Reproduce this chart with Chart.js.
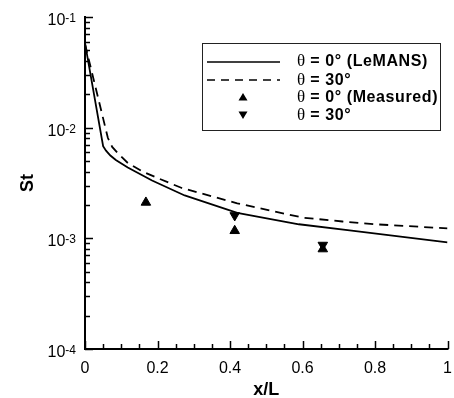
<!DOCTYPE html>
<html>
<head>
<meta charset="utf-8">
<script src="https://cdn.jsdelivr.net/npm/chart.js@4.4.1/dist/chart.umd.min.js"></script>
<style>
  html, body { margin: 0; padding: 0; background: #fff; }
  #wrap { width: 454px; height: 398px; }
</style>
</head>
<body>
<div id="wrap"><canvas id="chart" width="454" height="398"></canvas></div>
<script>
// LeMANS, theta = 0 deg (solid)
const xSolid = [0, 0.05, 0.058, 0.07, 0.085, 0.118, 0.185, 0.275, 0.42, 0.59, 0.73, 1.0];
const stSolid = [0.058, 0.0068, 0.0062, 0.0056, 0.0051, 0.00437, 0.00333, 0.00244, 0.0017, 0.00134, 0.00118, 0.00092];

// LeMANS, theta = 30 deg (dashed)
const xDash = [0, 0.063, 0.075, 0.09, 0.118, 0.16, 0.21, 0.267, 0.42, 0.6, 0.71, 0.8, 1.0];
const stDash = [0.057, 0.0081, 0.0067, 0.0059, 0.0048, 0.0040, 0.0034, 0.00285, 0.00207, 0.00154, 0.00142, 0.00134, 0.00123];

// measured
const xMeas0 = [0.168, 0.413, 0.656];
const stMeas0 = [0.00211, 0.00117, 0.00080];
const xMeas30 = [0.413, 0.656];
const stMeas30 = [0.00161, 0.00087];

const xTicks = [0, 0.2, 0.4, 0.6, 0.8, 1];
const xTickLabels = ['0', '0.2', '0.4', '0.6', '0.8', '1'];
const yExps = [-1, -2, -3, -4];

const legendLabels = [' = 0\u00b0 (LeMANS)', ' = 30\u00b0', ' = 0\u00b0 (Measured)', ' = 30\u00b0'];

function pts(xs, ys) {
    return xs.map((x, i) => ({x: x, y: ys[i]}));
}

const sans = '"Liberation Sans", Arial, sans-serif';
const serif = '"Liberation Serif", "Times New Roman", serif';

const decor = {
    id: 'decor',
    afterDraw(chart) {
        const ctx = chart.ctx;
        const xs = chart.scales.x, ys = chart.scales.y;
        const L = xs.getPixelForValue(0), R = xs.getPixelForValue(1);
        const T = ys.getPixelForValue(0.1), B = ys.getPixelForValue(0.0001);
        ctx.save();
        ctx.strokeStyle = '#000';
        ctx.fillStyle = '#000';

        // spines
        ctx.lineWidth = 2;
        ctx.beginPath();
        ctx.moveTo(L, T - 1);
        ctx.lineTo(L, B);
        ctx.lineTo(R + 1, B);
        ctx.stroke();

        // y ticks (log, inward)
        ctx.lineWidth = 1.5;
        for (let k = -4; k <= -1; k++) {
            for (let m = 1; m <= 9; m++) {
                const v = m * Math.pow(10, k);
                if (v > 0.1 + 1e-12) break;
                const py = Math.round(ys.getPixelForValue(v)) + 0.5;
                const len = m === 1 ? 8 : 5;
                ctx.beginPath();
                ctx.moveTo(L, py);
                ctx.lineTo(L + len, py);
                ctx.stroke();
            }
        }
        // x ticks (inward)
        for (let i = 0; i <= 20; i++) {
            const v = i * 0.05;
            const px = Math.round(xs.getPixelForValue(v)) + 0.5;
            const len = i % 4 === 0 ? 8 : 5;
            ctx.beginPath();
            ctx.moveTo(px, B);
            ctx.lineTo(px, B - len);
            ctx.stroke();
        }

        // x tick labels
        ctx.font = '16px ' + sans;
        ctx.textAlign = 'center';
        ctx.textBaseline = 'alphabetic';
        xTicks.forEach((v, i) => {
            ctx.fillText(xTickLabels[i], xs.getPixelForValue(v), B + 24);
        });

        // y tick labels 10^k
        yExps.forEach(k => {
            const py = ys.getPixelForValue(Math.pow(10, k));
            ctx.font = '12px ' + sans;
            ctx.textAlign = 'right';
            const ex = String(k);
            ctx.fillText(ex, 76, py + 5);
            const ew = ctx.measureText(ex).width;
            ctx.font = '16px ' + sans;
            ctx.fillText('10', 76 - ew, py + 8);
        });

        // axis titles
        ctx.font = 'bold 18px ' + sans;
        ctx.textAlign = 'center';
        ctx.fillText('x/L', (L + R) / 2, B + 46);
        ctx.save();
        ctx.translate(33, (T + B) / 2);
        ctx.rotate(-Math.PI / 2);
        ctx.fillText('St', 0, 0);
        ctx.restore();

        // legend
        const bx = 202.5, by = 43.5, bw = 238, bh = 87;
        ctx.lineWidth = 1;
        ctx.strokeStyle = '#222';
        ctx.strokeRect(bx, by, bw, bh);
        ctx.strokeStyle = '#000';
        const rows = [61, 80, 97, 115];
        const s0 = 207, s1 = 280, sc = 243;
        ctx.lineWidth = 1.6;
        ctx.beginPath();
        ctx.moveTo(s0, rows[0] + 1);
        ctx.lineTo(s1, rows[0] + 1);
        ctx.stroke();
        ctx.setLineDash([8, 6]);
        ctx.beginPath();
        ctx.moveTo(s0, rows[1]);
        ctx.lineTo(s1, rows[1]);
        ctx.stroke();
        ctx.setLineDash([]);
        // triangles
        ctx.beginPath();
        ctx.moveTo(sc - 4.5, rows[2] + 3.5);
        ctx.lineTo(sc + 4.5, rows[2] + 3.5);
        ctx.lineTo(sc, rows[2] - 4);
        ctx.closePath();
        ctx.fill();
        ctx.beginPath();
        ctx.moveTo(sc - 4.5, rows[3] - 3.5);
        ctx.lineTo(sc + 4.5, rows[3] - 3.5);
        ctx.lineTo(sc, rows[3] + 4);
        ctx.closePath();
        ctx.fill();

        ctx.textAlign = 'left';
        ctx.textBaseline = 'middle';
        legendLabels.forEach((t, i) => {
            ctx.letterSpacing = '0px';
            ctx.font = '17px ' + serif;
            ctx.fillText('\u03b8', 297, rows[i] + 1);
            const tw = ctx.measureText('\u03b8').width;
            ctx.font = 'bold 16px ' + sans;
            ctx.letterSpacing = '0.6px';
            ctx.fillText(t, 297 + tw, rows[i] + 1);
        });
        ctx.letterSpacing = '0px';
        ctx.restore();
    }
};

new Chart(document.getElementById('chart').getContext('2d'), {
    type: 'scatter',
    data: {
        datasets: [
            {
                label: 'theta = 0 (LeMANS)',
                data: pts(xSolid, stSolid),
                showLine: true,
                borderColor: '#000',
                borderWidth: 1.8,
                pointRadius: 0,
                tension: 0
            },
            {
                label: 'theta = 30',
                data: pts(xDash, stDash),
                showLine: true,
                borderColor: '#000',
                borderWidth: 1.8,
                borderDash: [9, 6],
                pointRadius: 0,
                tension: 0
            },
            {
                label: 'theta = 0 (Measured)',
                data: pts(xMeas0, stMeas0),
                pointStyle: 'triangle',
                pointRadius: 5.5,
                backgroundColor: '#000',
                borderColor: '#000',
                borderWidth: 1
            },
            {
                label: 'theta = 30 (Measured)',
                data: pts(xMeas30, stMeas30),
                pointStyle: 'triangle',
                pointRotation: 180,
                pointRadius: 5.5,
                backgroundColor: '#000',
                borderColor: '#000',
                borderWidth: 1
            }
        ]
    },
    options: {
        responsive: false,
        animation: false,
        layout: { padding: { left: 85, right: 6, top: 17, bottom: 49 } },
        plugins: { legend: { display: false }, tooltip: { enabled: false } },
        scales: {
            x: { type: 'linear', min: 0, max: 1, display: false },
            y: { type: 'logarithmic', min: 0.0001, max: 0.1, display: false }
        }
    },
    plugins: [decor]
});
</script>
</body>
</html>
